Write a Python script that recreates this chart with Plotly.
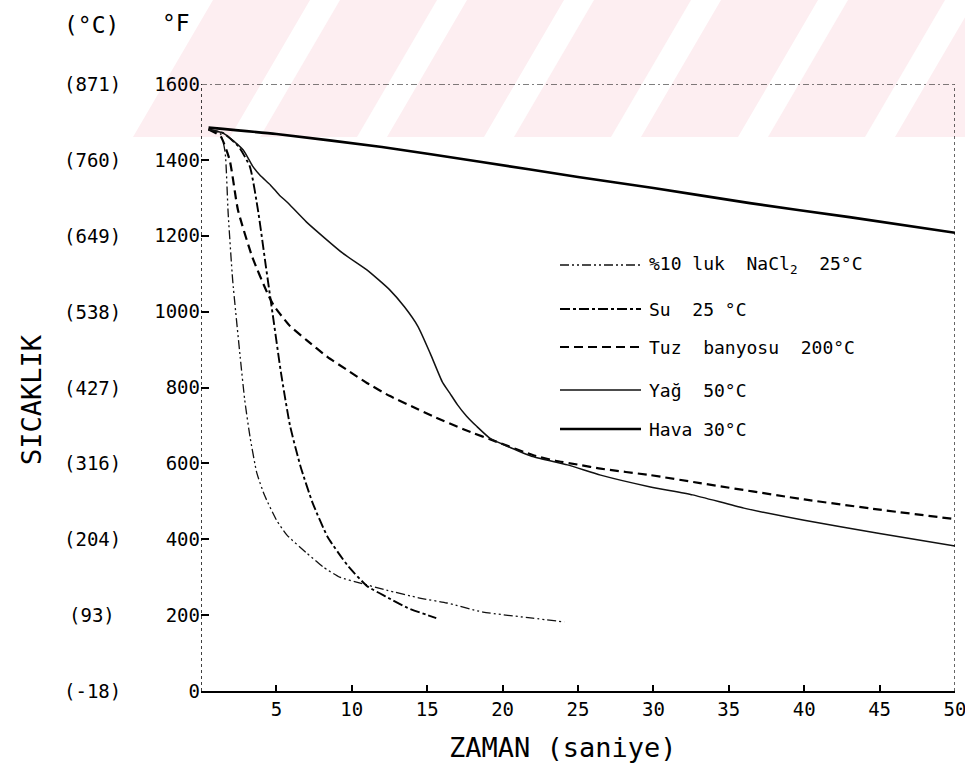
import plotly.graph_objects as go

# Cooling curves: time (s) vs temperature (°F) for five quenching media
nacl_t = [0.5, 1.3, 1.6, 1.8, 2.1, 2.6, 2.9, 3.25, 3.7, 4.2, 5.0, 5.7, 7.0, 8.1, 9.2, 10.5, 12.3, 14.5, 16.3, 18.7, 22.0, 24.1]
nacl_f = [1480, 1468, 1420, 1260, 1083, 880, 767, 670, 575, 517, 451, 411, 364, 327, 300, 285, 266, 245, 232, 208, 192, 182]

su_t = [0.5, 1.5, 2.5, 3.25, 3.8, 4.3, 4.8, 5.3, 5.9, 6.6, 7.4, 8.4, 9.7, 11.0, 12.3, 13.7, 15.6]
su_f = [1480, 1470, 1435, 1381, 1262, 1120, 980, 840, 700, 592, 496, 406, 332, 277, 248, 219, 192]

tuz_t = [0.5, 1.3, 1.9, 2.45, 3.4, 4.4, 4.8, 5.2, 5.9, 7.0, 8.4, 9.7, 11.0, 12.5, 14.0, 15.5, 17.4,
         19.8, 22.0, 23.5, 25.1, 26.5, 29.8, 33.1, 40, 45, 50]
tuz_f = [1480, 1462, 1400, 1268, 1144, 1049, 1018, 996, 962, 925, 880, 846, 812, 778, 750, 722, 690,
         654, 622, 607, 596, 586, 569, 548, 505, 478, 453]

yag_t = [0.5, 1.5, 2.8, 3.4, 3.9, 4.6, 5.2, 5.7, 7.0, 9.4, 11.0, 12.5, 13.5, 14.4, 15.2, 16.0, 16.5, 17.0,
         17.6, 18.3, 19.2, 20.5, 22.0, 24.3, 26.5, 29.8, 32.6, 36, 40, 45, 50]
yag_f = [1480, 1470, 1426, 1385, 1360, 1334, 1307, 1289, 1236, 1154, 1110, 1058, 1012, 960, 890, 815, 785, 755,
         725, 697, 665, 642, 618, 596, 569, 538, 517, 482, 450, 415, 382]

hava_t = [0.5, 5, 12, 18.5, 25, 30, 36.4, 43, 50]
hava_f = [1485, 1468, 1434, 1395, 1355, 1326, 1286, 1249, 1208]

# Axis ticks
x_ticks = [5, 10, 15, 20, 25, 30, 35, 40, 45, 50]
f_ticks = [0, 200, 400, 600, 800, 1000, 1200, 1400, 1600]
c_ticks = ["(-18)", "(93)", "(204)", "(316)", "(427)", "(538)", "(649)", "(760)", "(871)"]

legend_labels = ["%10 luk  NaCl<sub>2</sub>  25°C", "Su  25 °C", "Tuz  banyosu  200°C", "Yağ  50°C", "Hava 30°C"]

FONT = "DejaVu Sans Mono"

# plot-area geometry in pixels (for placing annotations/shapes)
L, R, T, B = 201, 955, 84, 691
W, H = 965, 767


def px(x):
    return (x - L) / (R - L)


def py(y):
    return (B - y) / (B - T)


series = [
    (nacl_t, nacl_f, dict(color="#111", width=1.3, dash="9px,3px,2px,3px,2px,3px")),
    (su_t, su_f, dict(color="#000", width=1.9, dash="10px,3px,3px,3px")),
    (tuz_t, tuz_f, dict(color="#000", width=2.2, dash="9px,5px")),
    (yag_t, yag_f, dict(color="#111", width=1.5)),
    (hava_t, hava_f, dict(color="#000", width=2.6)),
]

fig = go.Figure()
for (t, f, ln), name in zip(series, legend_labels):
    fig.add_trace(go.Scatter(x=t, y=f, mode="lines", name=name,
                             line=dict(shape="spline", smoothing=0.5, **ln),
                             showlegend=False, hoverinfo="skip"))

shapes = []

# light pink diagonal bands across the top strip
top_y, bot_y = 0, 137
band_w, slant = 97, 80
for xb in range(133, 1000, 127):
    path = (f"M {px(xb)} {py(bot_y)} L {px(xb + band_w)} {py(bot_y)} "
            f"L {px(xb + band_w + slant)} {py(top_y)} L {px(xb + slant)} {py(top_y)} Z")
    shapes.append(dict(type="path", path=path, xref="paper", yref="paper",
                       fillcolor="#fdeef1", line=dict(width=0), layer="below"))

# frame: dotted left/right borders and a broken top border
shapes.append(dict(type="line", xref="x", yref="y", x0=0, x1=0, y0=0, y1=1600,
                   line=dict(color="#000", width=1.5, dash="dot")))
shapes.append(dict(type="line", xref="x", yref="y", x0=50, x1=50, y0=0, y1=1600,
                   line=dict(color="#000", width=1.2, dash="dot")))
shapes.append(dict(type="line", xref="x", yref="y", x0=0, x1=50, y0=1600, y1=1600,
                   line=dict(color="#000", width=1.2, dash="6px,3px,2px,3px")))

annotations = []

# hand-made legend
leg_y = [265, 309, 347, 390, 429]
for (t, f, ln), label, yy in zip(series, legend_labels, leg_y):
    shapes.append(dict(type="line", xref="paper", yref="paper",
                       x0=px(560), x1=px(641), y0=py(yy), y1=py(yy), line=ln))
    annotations.append(dict(text=label, xref="paper", yref="paper", x=px(647), y=py(yy),
                            xanchor="left", yanchor="middle", showarrow=False,
                            font=dict(family=FONT, size=18, color="#000")))

# Celsius equivalents beside the Fahrenheit ticks
for fv, ct in zip(f_ticks, c_ticks):
    annotations.append(dict(text=ct, xref="paper", yref="y", x=px(92), y=fv,
                            xanchor="center", yanchor="middle", showarrow=False,
                            font=dict(family=FONT, size=19, color="#000")))

# unit headers
annotations.append(dict(text="(°C)", xref="paper", yref="paper", x=px(91), y=py(25),
                        xanchor="center", yanchor="middle", showarrow=False,
                        font=dict(family=FONT, size=23, color="#000")))
annotations.append(dict(text="°F", xref="paper", yref="paper", x=px(176), y=py(23),
                        xanchor="center", yanchor="middle", showarrow=False,
                        font=dict(family=FONT, size=23, color="#000")))

# axis titles
annotations.append(dict(text="ZAMAN (saniye)", xref="paper", yref="paper", x=px(563), y=py(747),
                        xanchor="center", yanchor="middle", showarrow=False,
                        font=dict(family=FONT, size=27, color="#000")))
annotations.append(dict(text="SICAKLIK", xref="paper", yref="paper", x=px(31), y=py(400),
                        xanchor="center", yanchor="middle", showarrow=False, textangle=-90,
                        font=dict(family=FONT, size=27, color="#000")))

fig.update_layout(
    width=W, height=H,
    margin=dict(l=L, r=W - R, t=T, b=H - B, autoexpand=False),
    paper_bgcolor="white", plot_bgcolor="rgba(0,0,0,0)",
    shapes=shapes, annotations=annotations, showlegend=False,
    font=dict(family=FONT, color="#000"),
)
fig.update_xaxes(range=[0, 50], tickvals=x_ticks, ticktext=[str(v) for v in x_ticks],
                 ticks="inside", ticklen=6, tickwidth=1.5, tickcolor="#000",
                 ticklabeloverflow="allow", automargin=False,
                 showline=True, linewidth=2, linecolor="#000", mirror=False,
                 showgrid=False, zeroline=False, tickfont=dict(family=FONT, size=19))
fig.update_yaxes(range=[0, 1600], tickvals=f_ticks, ticktext=[str(v) for v in f_ticks],
                 ticks="inside", ticklen=8, tickwidth=1.5, tickcolor="#000",
                 automargin=False,
                 showline=False, showgrid=False, zeroline=False,
                 tickfont=dict(family=FONT, size=19))

fig.write_html("out.html")
